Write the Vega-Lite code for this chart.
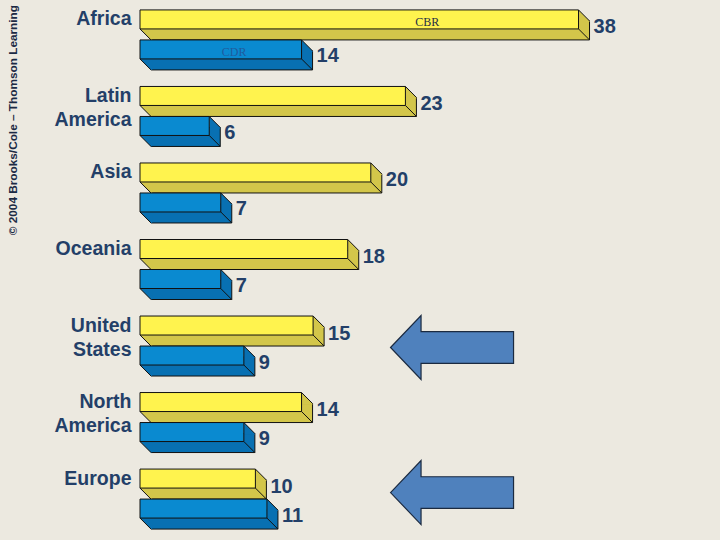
{
  "$schema": "https://vega.github.io/schema/vega-lite/v6.json",
  "width": 577,
  "height": 528,
  "autosize": "none",
  "padding": {"left": 140, "top": 0, "right": 3, "bottom": 12},
  "background": "#ECE9E0",
  "config": {"view": {"stroke": null}},
  "title": {"text": "© 2004 Brooks/Cole – Thomson Learning", "orient": "left", "anchor": "end", "frame": "group", "font": "Liberation Sans", "fontSize": 11.8, "fontWeight": "bold", "color": "#1B2A44", "offset": 34, "dx": -5},
  "data": {"values": [
    {"region": "Africa", "series": "CBR", "value": 38},
    {"region": "Africa", "series": "CDR", "value": 14},
    {"region": "Latin America", "series": "CBR", "value": 23},
    {"region": "Latin America", "series": "CDR", "value": 6},
    {"region": "Asia", "series": "CBR", "value": 20},
    {"region": "Asia", "series": "CDR", "value": 7},
    {"region": "Oceania", "series": "CBR", "value": 18},
    {"region": "Oceania", "series": "CDR", "value": 7},
    {"region": "United States", "series": "CBR", "value": 15},
    {"region": "United States", "series": "CDR", "value": 9},
    {"region": "North America", "series": "CBR", "value": 14},
    {"region": "North America", "series": "CDR", "value": 9},
    {"region": "Europe", "series": "CBR", "value": 10},
    {"region": "Europe", "series": "CDR", "value": 11}
  ]},
  "encoding": {
    "y": {"field": "region", "type": "nominal", "sort": null,
      "scale": {"paddingInner": 0.2, "paddingOuter": 0.05},
      "axis": {"title": null, "domain": false, "ticks": false, "grid": false, "labelPadding": 9, "labelFont": "Liberation Sans", "labelFontSize": 19.5, "labelFontWeight": "bold", "labelColor": "#233F68", "labelBaseline": "top", "labelOffset": -24, "labelLineHeight": 24, "labelLimit": 200, "labelExpr": "split(datum.label, ' ')"}}
  },
  "layer": [
    {"transform": [{"filter": "datum.series == 'CBR'"}], "mark": {"type": "bar", "height": 19, "xOffset": 11, "x2Offset": 11, "yOffset": -4, "fill": "#D3C64A", "stroke": "#111111", "strokeWidth": 1}, "encoding": {"x": {"field": "value", "type": "quantitative", "scale": {"domain": [0, 50], "nice": false}, "axis": null}}},
    {"transform": [{"filter": "datum.series == 'CBR'"}], "mark": {"type": "point", "shape": "M0,0L1,1L1,1.09L0,1.09Z", "size": 484, "filled": true, "fill": "#D3C64A", "opacity": 1, "strokeWidth": 0, "yOffset": -24.5}, "encoding": {"x": {"field": "value", "type": "quantitative"}}},
    {"transform": [{"filter": "datum.series == 'CBR'"}], "mark": {"type": "point", "shape": "M0,0L1,1L1.1,1L1.1,0Z", "size": 484, "filled": true, "fill": "#D3C64A", "opacity": 1, "strokeWidth": 0, "yOffset": -5.5}, "encoding": {"x": {"datum": 0, "type": "quantitative"}}},
    {"transform": [{"filter": "datum.series == 'CBR'"}], "mark": {"type": "bar", "height": 19, "yOffset": -15, "fill": "#FFF34E", "stroke": "#111111", "strokeWidth": 1}, "encoding": {"x": {"field": "value", "type": "quantitative"}}},
    {"transform": [{"filter": "datum.series == 'CBR'"}], "mark": {"type": "point", "shape": "M0,0L1,1", "size": 484, "filled": false, "stroke": "#111111", "strokeWidth": 1, "opacity": 1, "yOffset": -24.5}, "encoding": {"x": {"field": "value", "type": "quantitative"}}},
    {"transform": [{"filter": "datum.series == 'CBR'"}], "mark": {"type": "point", "shape": "M0,0L1,1", "size": 484, "filled": false, "stroke": "#111111", "strokeWidth": 1, "opacity": 1, "yOffset": -5.5}, "encoding": {"x": {"field": "value", "type": "quantitative"}}},
    {"transform": [{"filter": "datum.series == 'CBR'"}], "mark": {"type": "point", "shape": "M0,0L1,1", "size": 484, "filled": false, "stroke": "#111111", "strokeWidth": 1, "opacity": 1, "yOffset": -5.5}, "encoding": {"x": {"datum": 0, "type": "quantitative"}}},
    {"transform": [{"filter": "datum.series == 'CDR'"}], "mark": {"type": "bar", "height": 19, "xOffset": 11, "x2Offset": 11, "yOffset": 26, "fill": "#0870B2", "stroke": "#111111", "strokeWidth": 1}, "encoding": {"x": {"field": "value", "type": "quantitative"}}},
    {"transform": [{"filter": "datum.series == 'CDR'"}], "mark": {"type": "point", "shape": "M0,0L1,1L1,1.09L0,1.09Z", "size": 484, "filled": true, "fill": "#0870B2", "opacity": 1, "strokeWidth": 0, "yOffset": 5.5}, "encoding": {"x": {"field": "value", "type": "quantitative"}}},
    {"transform": [{"filter": "datum.series == 'CDR'"}], "mark": {"type": "point", "shape": "M0,0L1,1L1.1,1L1.1,0Z", "size": 484, "filled": true, "fill": "#0870B2", "opacity": 1, "strokeWidth": 0, "yOffset": 24.5}, "encoding": {"x": {"datum": 0, "type": "quantitative"}}},
    {"transform": [{"filter": "datum.series == 'CDR'"}], "mark": {"type": "bar", "height": 19, "yOffset": 15, "fill": "#0A8AD0", "stroke": "#111111", "strokeWidth": 1}, "encoding": {"x": {"field": "value", "type": "quantitative"}}},
    {"transform": [{"filter": "datum.series == 'CDR'"}], "mark": {"type": "point", "shape": "M0,0L1,1", "size": 484, "filled": false, "stroke": "#111111", "strokeWidth": 1, "opacity": 1, "yOffset": 5.5}, "encoding": {"x": {"field": "value", "type": "quantitative"}}},
    {"transform": [{"filter": "datum.series == 'CDR'"}], "mark": {"type": "point", "shape": "M0,0L1,1", "size": 484, "filled": false, "stroke": "#111111", "strokeWidth": 1, "opacity": 1, "yOffset": 24.5}, "encoding": {"x": {"field": "value", "type": "quantitative"}}},
    {"transform": [{"filter": "datum.series == 'CDR'"}], "mark": {"type": "point", "shape": "M0,0L1,1", "size": 484, "filled": false, "stroke": "#111111", "strokeWidth": 1, "opacity": 1, "yOffset": 24.5}, "encoding": {"x": {"datum": 0, "type": "quantitative"}}},
    {"transform": [{"filter": "datum.series == 'CBR'"}], "mark": {"type": "text", "align": "left", "baseline": "middle", "dx": 15, "yOffset": -7, "font": "Liberation Sans", "fontSize": 20, "fontWeight": "bold", "fill": "#233F68"}, "encoding": {"x": {"field": "value", "type": "quantitative"}, "text": {"field": "value", "type": "quantitative"}}},
    {"transform": [{"filter": "datum.series == 'CDR'"}], "mark": {"type": "text", "align": "left", "baseline": "middle", "dx": 15, "yOffset": 22, "font": "Liberation Sans", "fontSize": 20, "fontWeight": "bold", "fill": "#233F68"}, "encoding": {"x": {"field": "value", "type": "quantitative"}, "text": {"field": "value", "type": "quantitative"}}},
    {"transform": [{"filter": "datum.series == 'CBR' && datum.region == 'Africa'"}], "mark": {"type": "text", "align": "center", "baseline": "middle", "yOffset": -12.4, "font": "Liberation Serif", "fontSize": 12, "fill": "#1F2F45"}, "encoding": {"x": {"datum": 24.9, "type": "quantitative"}, "text": {"field": "series"}}},
    {"transform": [{"filter": "datum.series == 'CDR' && datum.region == 'Africa'"}], "mark": {"type": "text", "align": "center", "baseline": "middle", "yOffset": 17.6, "font": "Liberation Serif", "fontSize": 12, "fill": "#1F5C9E"}, "encoding": {"x": {"datum": 8.15, "type": "quantitative"}, "text": {"field": "series"}}},
    {"transform": [{"filter": "datum.series == 'CBR' && datum.region == 'United States'"}], "mark": {"type": "point", "shape": "M-1,0L-0.504,-0.52L-0.504,-0.257L1,-0.257L1,0.257L-0.504,0.257L-0.504,0.52Z", "size": 15129, "filled": true, "fill": "#4F81BD", "stroke": "#1B2A40", "strokeWidth": 1.2, "opacity": 1, "yOffset": 7}, "encoding": {"x": {"datum": 27.04, "type": "quantitative"}}},
    {"transform": [{"filter": "datum.series == 'CBR' && datum.region == 'Europe'"}], "mark": {"type": "point", "shape": "M-1,0L-0.504,-0.52L-0.504,-0.257L1,-0.257L1,0.257L-0.504,0.257L-0.504,0.52Z", "size": 15129, "filled": true, "fill": "#4F81BD", "stroke": "#1B2A40", "strokeWidth": 1.2, "opacity": 1, "yOffset": -1}, "encoding": {"x": {"datum": 27.04, "type": "quantitative"}}}
  ]
}
